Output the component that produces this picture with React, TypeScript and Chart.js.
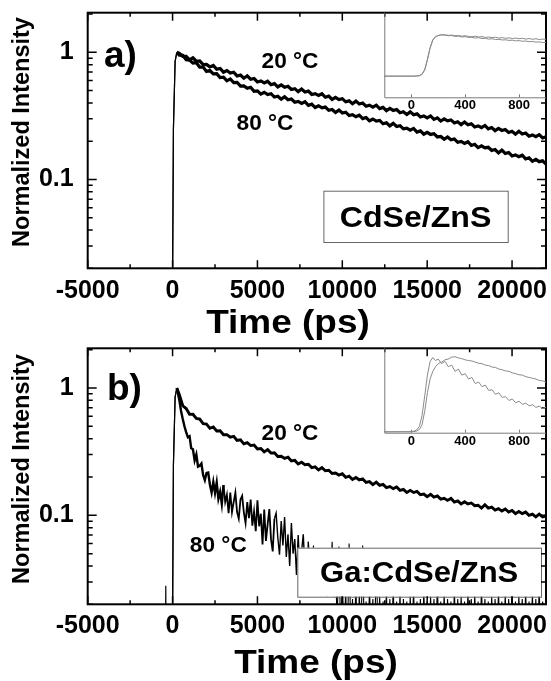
import React, { useEffect, useRef } from 'react';
import { Chart, registerables } from 'chart.js';

Chart.register(...registerables);

const FONT = "'Liberation Sans', Arial, Helvetica, sans-serif";
Chart.defaults.font.family = FONT;

// ---------- main panels: time axis (ps) ----------
const timePs = [
  -5000, -450, -400, -350, -50, 50, 150, 250,
  400, 600, 800, 1000, 1200, 1400, 1600, 1800, 2000, 2200,
  2400, 2600, 2800, 3000, 3200, 3400, 3600, 3800, 4000, 4200,
  4400, 4600, 4800, 5000, 5200, 5400, 5600, 5800, 6000, 6200,
  6400, 6600, 6800, 7000, 7200, 7400, 7600, 7800, 8000, 8200,
  8400, 8600, 8800, 9000, 9200, 9400, 9600, 9800, 10000, 10200,
  10400, 10600, 10800, 11000, 11200, 11400, 11600, 11800, 12000, 12200,
  12400, 12600, 12800, 13000, 13200, 13400, 13600, 13800, 14000, 14200,
  14400, 14600, 14800, 15000, 15200, 15400, 15600, 15800, 16000, 16200,
  16400, 16600, 16800, 17000, 17200, 17400, 17600, 17800, 18000, 18200,
  18400, 18600, 18800, 19000, 19200, 19400, 19600, 19800, 20000, 20200,
  20400, 20600, 20800, 21000, 21200, 21400, 21600, 21800, 22000,
];

// a) CdSe/ZnS
const cdse20C = [
  0.001, 0.001, 0.001, 0.001, 0.001, 0.25, 0.85, 1.0,
  0.98, 0.93, 0.93, 0.873, 0.906, 0.851, 0.857, 0.80, 0.804, 0.768,
  0.788, 0.735, 0.746, 0.698, 0.719, 0.687, 0.697, 0.652, 0.662, 0.626,
  0.654, 0.614, 0.622, 0.585, 0.595, 0.574, 0.592, 0.556, 0.567, 0.534,
  0.554, 0.532, 0.541, 0.51, 0.518, 0.491, 0.514, 0.487, 0.495, 0.466,
  0.473, 0.458, 0.472, 0.443, 0.452, 0.426, 0.442, 0.425, 0.432, 0.408,
  0.415, 0.394, 0.413, 0.392, 0.399, 0.377, 0.384, 0.371, 0.384, 0.361,
  0.369, 0.348, 0.362, 0.349, 0.355, 0.335, 0.341, 0.324, 0.34, 0.323,
  0.328, 0.31, 0.316, 0.305, 0.316, 0.297, 0.305, 0.288, 0.3, 0.289,
  0.294, 0.278, 0.284, 0.27, 0.283, 0.269, 0.274, 0.259, 0.264, 0.256,
  0.266, 0.25, 0.256, 0.242, 0.252, 0.243, 0.247, 0.234, 0.239, 0.227,
  0.239, 0.228, 0.232, 0.219, 0.224, 0.217, 0.225, 0.212, 0.217,
];
const cdse80C = [
  0.001, 0.001, 0.001, 0.001, 0.001, 0.25, 0.85, 1.0,
  0.95, 0.949, 0.873, 0.869, 0.822, 0.829, 0.764, 0.766, 0.708, 0.719,
  0.677, 0.68, 0.634, 0.637, 0.597, 0.618, 0.579, 0.581, 0.542, 0.545,
  0.521, 0.531, 0.493, 0.497, 0.469, 0.485, 0.466, 0.473, 0.445, 0.451,
  0.428, 0.447, 0.424, 0.429, 0.405, 0.411, 0.397, 0.409, 0.383, 0.391,
  0.368, 0.38, 0.366, 0.371, 0.35, 0.355, 0.336, 0.351, 0.333, 0.338,
  0.318, 0.323, 0.311, 0.32, 0.301, 0.307, 0.289, 0.299, 0.288, 0.291,
  0.274, 0.279, 0.264, 0.276, 0.261, 0.265, 0.25, 0.253, 0.244, 0.252,
  0.236, 0.241, 0.227, 0.235, 0.226, 0.229, 0.216, 0.218, 0.207, 0.216,
  0.205, 0.208, 0.196, 0.199, 0.192, 0.198, 0.185, 0.189, 0.178, 0.184,
  0.177, 0.179, 0.169, 0.172, 0.162, 0.17, 0.16, 0.163, 0.153, 0.156,
  0.151, 0.155, 0.145, 0.148, 0.139, 0.144, 0.138, 0.14, 0.132,
];

// b) Ga:CdSe/ZnS, 20 °C (same time axis)
const ga20C = [
  0.001, 0.001, 0.001, 0.001, 0.001, 0.25, 0.85, 1.0,
  0.886, 0.725, 0.69, 0.621, 0.622, 0.577, 0.569, 0.524, 0.52, 0.482,
  0.494, 0.46, 0.461, 0.429, 0.43, 0.411, 0.417, 0.387, 0.391, 0.364,
  0.372, 0.353, 0.356, 0.332, 0.335, 0.315, 0.328, 0.308, 0.31, 0.29,
  0.291, 0.28, 0.286, 0.267, 0.27, 0.253, 0.261, 0.25, 0.252, 0.237,
  0.24, 0.227, 0.237, 0.224, 0.226, 0.213, 0.215, 0.207, 0.212, 0.199,
  0.203, 0.191, 0.198, 0.19, 0.193, 0.181, 0.184, 0.174, 0.182, 0.172,
  0.175, 0.165, 0.168, 0.162, 0.167, 0.157, 0.16, 0.151, 0.157, 0.151,
  0.154, 0.145, 0.147, 0.14, 0.146, 0.139, 0.142, 0.134, 0.136, 0.131,
  0.136, 0.127, 0.13, 0.123, 0.128, 0.123, 0.125, 0.119, 0.12, 0.114,
  0.121, 0.114, 0.116, 0.11, 0.113, 0.108, 0.112, 0.106, 0.109, 0.103,
  0.107, 0.103, 0.106, 0.1, 0.102, 0.097, 0.102, 0.097, 0.099,
];

// b) Ga:CdSe/ZnS, 80 °C (finer time axis)
const gaHotTimePs = [
  -5000, -450, -400, -350, -50, 50, 150, 250,
  400, 500, 600, 700, 800, 900,
  1000, 1100, 1200, 1300, 1400, 1500, 1600, 1700, 1800, 1900,
  2000, 2100, 2200, 2300, 2400, 2500, 2600, 2700, 2800, 2900,
  3000, 3100, 3200, 3300, 3400, 3500, 3600, 3700, 3800, 3900,
  4000, 4100, 4200, 4300, 4400, 4500, 4600, 4700, 4800, 4900,
  5000, 5100, 5200, 5300, 5400, 5500, 5600, 5700, 5800, 5900,
  6000, 6100, 6200, 6300, 6400, 6500, 6600, 6700, 6800, 6900,
  7000, 7100, 7200, 7300, 7400, 7500, 7600, 7700, 7800, 7900,
  8000, 8100, 8200, 8300, 8400, 8500, 8600, 8700, 8800, 8900,
  9000, 9100, 9200, 9300, 9400, 9500, 9600, 9700, 9800, 9900,
  10000, 10100, 10200, 10300, 10400, 10500, 10600, 10700, 10800, 10900,
  11000, 11100, 11200, 11300, 11400, 11500, 11600, 11700, 11800, 11900,
  12000, 12100, 12200, 12300, 12400, 12500, 12600, 12700, 12800, 12900,
  13000, 13100, 13200, 13300, 13400, 13500, 13600, 13700, 13800, 13900,
  14000, 14100, 14200, 14300, 14400, 14500, 14600, 14700, 14800, 14900,
  15000, 15100, 15200, 15300, 15400, 15500, 15600, 15700, 15800, 15900,
  16000, 16100, 16200, 16300, 16400, 16500, 16600, 16700, 16800, 16900,
  17000, 17100, 17200, 17300, 17400, 17500, 17600, 17700, 17800, 17900,
  18000, 18100, 18200, 18300, 18400, 18500, 18600, 18700, 18800, 18900,
  19000, 19100, 19200, 19300, 19400, 19500, 19600, 19700, 19800, 19900,
  20000, 20100, 20200, 20300, 20400, 20500, 20600, 20700, 20800, 20900,
  21000, 21100, 21200, 21300, 21400, 21500, 21600, 21700, 21800, 21900,
  22000,
];
const ga80C = [
  0.001, 0.001, 0.028, 0.001, 0.001, 0.25, 0.85, 1.0,
  0.8, 0.66, 0.57, 0.5, 0.45, 0.41,
  0.418, 0.336, 0.33, 0.27, 0.3, 0.241, 0.245, 0.255, 0.207, 0.189,
  0.215, 0.217, 0.174, 0.151, 0.183, 0.15, 0.181, 0.135, 0.153, 0.123,
  0.173, 0.127, 0.145, 0.104, 0.151, 0.106, 0.127, 0.151, 0.106, 0.094,
  0.133, 0.142, 0.105, 0.087, 0.127, 0.095, 0.133, 0.083, 0.107, 0.075,
  0.131, 0.082, 0.103, 0.059, 0.111, 0.063, 0.085, 0.112, 0.065, 0.052,
  0.094, 0.104, 0.067, 0.049, 0.09, 0.058, 0.097, 0.047, 0.071, 0.04,
  0.087, 0.05, 0.065, 0.034, 0.07, 0.036, 0.052, 0.071, 0.037, 0.029,
  0.062, 0.041, 0.03, 0.058, 0.027, 0.045, 0.025, 0.052, 0.024, 0.035,
  0.045, 0.023, 0.04, 0.024, 0.062, 0.023, 0.035, 0.015, 0.057, 0.012,
  0.03, 0.012, 0.025, 0.009, 0.06, 0.011, 0.022, 0.01, 0.028, 0.008,
  0.024, 0.011, 0.058, 0.01, 0.021, 0.009, 0.026, 0.012, 0.022, 0.008,
  0.055, 0.01, 0.023, 0.009, 0.021, 0.011, 0.025, 0.008, 0.022, 0.01,
  0.027, 0.009, 0.021, 0.011, 0.024, 0.008, 0.022, 0.01, 0.021, 0.009,
  0.023, 0.011, 0.026, 0.008, 0.021, 0.01, 0.022, 0.009, 0.025, 0.011,
  0.021, 0.008, 0.023, 0.01, 0.022, 0.009, 0.028, 0.011, 0.021, 0.01,
  0.024, 0.009, 0.022, 0.011, 0.021, 0.008, 0.026, 0.01, 0.022, 0.009,
  0.023, 0.011, 0.021, 0.009, 0.025, 0.01, 0.022, 0.008, 0.024, 0.011,
  0.021, 0.009, 0.027, 0.01, 0.022, 0.011, 0.021, 0.008, 0.023, 0.01,
  0.022, 0.009, 0.025, 0.011, 0.021, 0.01, 0.024, 0.008, 0.022, 0.011,
  0.026, 0.009, 0.021, 0.01, 0.023, 0.011, 0.022, 0.008, 0.025, 0.01,
  0.021, 0.011, 0.024, 0.009, 0.022, 0.01, 0.027, 0.008, 0.021, 0.011,
  0.023,
];

// ---------- insets ----------
const insetTime = [
  -200, -150, -100, -50, 0, 20, 40, 60, 80, 100, 120, 140, 160, 180, 200,
  225, 250, 275, 300, 325, 350, 375, 400, 425, 450, 475, 500, 525, 550, 575,
  600, 625, 650, 675, 700, 725, 750, 775, 800, 825, 850, 875, 900, 925, 950,
  975, 1000,
];
const insetCdse20C = [
  0, 0, 0, 0, 0, 0, 0.005, 0.01, 0.04, 0.14, 0.38, 0.66, 0.85, 0.93, 0.96,
  0.98, 0.975, 0.965, 0.97, 0.955, 0.96, 0.945, 0.955, 0.94, 0.93, 0.945, 0.925, 0.935, 0.915, 0.925,
  0.91, 0.92, 0.9, 0.91, 0.895, 0.905, 0.89, 0.9, 0.885, 0.895, 0.875, 0.89, 0.87, 0.885, 0.865,
  0.875, 0.87,
];
const insetCdse80C = [
  0, 0, 0, 0, 0, 0, 0.005, 0.012, 0.05, 0.16, 0.4, 0.68, 0.86, 0.93, 0.96,
  0.975, 0.97, 0.955, 0.96, 0.94, 0.945, 0.925, 0.935, 0.915, 0.92, 0.9, 0.91, 0.89, 0.895, 0.875,
  0.885, 0.865, 0.87, 0.855, 0.86, 0.845, 0.85, 0.835, 0.84, 0.825, 0.83, 0.815, 0.82, 0.805, 0.81,
  0.795, 0.8,
];
const insetGa20C = [
  0.01, 0.012, 0.01, 0.013, 0.012, 0.015, 0.02, 0.04, 0.1, 0.28, 0.52, 0.7, 0.8, 0.86, 0.9,
  0.92, 0.95, 0.96, 0.985, 0.99, 0.975, 0.965, 0.95, 0.94, 0.935, 0.92, 0.905, 0.9, 0.88, 0.875,
  0.855, 0.85, 0.83, 0.82, 0.805, 0.8, 0.78, 0.77, 0.755, 0.75, 0.73, 0.72, 0.71, 0.7, 0.68,
  0.675, 0.66,
];
const insetGa80C = [
  0.012, 0.01, 0.014, 0.011, 0.013, 0.02, 0.035, 0.08, 0.22, 0.48, 0.75, 0.93, 0.98, 0.94, 0.96,
  0.9, 0.93, 0.86, 0.88, 0.8, 0.83, 0.75, 0.77, 0.7, 0.72, 0.64, 0.66, 0.6, 0.62, 0.55,
  0.56, 0.5, 0.52, 0.46, 0.47, 0.42, 0.44, 0.39, 0.41, 0.37, 0.385, 0.35, 0.365, 0.33, 0.345,
  0.32, 0.33,
];

// ---------- ticks ----------
const xMajorTicks = [-5000, 0, 5000, 10000, 15000, 20000];
const xTickLabels = ['-5000', '0', '5000', '10000', '15000', '20000'];
const xMinorTicks = [-2500, 2500, 7500, 12500, 17500];
const yMajorTicks = [0.1, 1];
const yTickLabels = ['0.1', '1'];
const yMinorTicks = [0.02, 0.03, 0.04, 0.05, 0.06, 0.07, 0.08, 0.09, 0.2, 0.3, 0.4, 0.5, 0.6, 0.7, 0.8, 0.9, 2];
const insetXTicks = [0, 400, 800];
const insetXTickLabels = ['0', '400', '800'];

const toPoints = (xs: number[], ys: number[]) => xs.map((x, i) => ({ x, y: ys[i] }));

function drawText(
  ctx: CanvasRenderingContext2D, s: string, x: number, y: number, size: number,
  align: CanvasTextAlign = 'center', sx = 1,
) {
  ctx.save();
  ctx.translate(x, y);
  ctx.scale(sx, 1);
  ctx.font = `bold ${size}px ${FONT}`;
  ctx.textAlign = align;
  ctx.textBaseline = 'alphabetic';
  ctx.fillStyle = '#000';
  ctx.fillText(s, 0, 0);
  ctx.restore();
}

function decorPlugin(p: any) {
  return {
    id: 'decor',
    afterDatasetsDraw(chart: any) {
      const { ctx, chartArea: a, scales } = chart;
      const xs = scales.x;
      const ys = scales.y;
      ctx.save();
      // sample box
      ctx.fillStyle = '#fff';
      ctx.fillRect(p.box.x, p.box.y, p.box.w, p.box.h);
      ctx.strokeStyle = '#666';
      ctx.lineWidth = 1;
      ctx.strokeRect(p.box.x + 0.5, p.box.y + 0.5, p.box.w, p.box.h);
      drawText(ctx, p.boxText, p.box.x + p.box.w / 2, p.boxTextY, p.boxFont, 'center', p.boxSx);
      // frame
      ctx.strokeStyle = '#000';
      ctx.lineWidth = 2;
      ctx.strokeRect(a.left, a.top, a.right - a.left, a.bottom - a.top);
      // ticks (inside, on all four sides)
      ctx.lineWidth = 1.5;
      ctx.beginPath();
      const xt = (v: number, len: number) => {
        const px = xs.getPixelForValue(v);
        ctx.moveTo(px, a.bottom); ctx.lineTo(px, a.bottom - len);
        ctx.moveTo(px, a.top); ctx.lineTo(px, a.top + len);
      };
      const yt = (v: number, len: number) => {
        const py = ys.getPixelForValue(v);
        ctx.moveTo(a.left, py); ctx.lineTo(a.left + len, py);
        ctx.moveTo(a.right, py); ctx.lineTo(a.right - len, py);
      };
      xMajorTicks.forEach((v) => xt(v, 8));
      xMinorTicks.forEach((v) => xt(v, 4));
      yMajorTicks.forEach((v) => yt(v, 9));
      yMinorTicks.forEach((v) => yt(v, 5));
      ctx.stroke();
      // labels
      drawText(ctx, p.panelLabel, p.labelPos.x, p.labelPos.y, 37, 'left');
      drawText(ctx, '20 °C', p.t20.x, p.t20.y, 22, 'center', 1.03);
      drawText(ctx, '80 °C', p.t80.x, p.t80.y, 22, 'center', 1.03);
      // axis titles
      drawText(ctx, 'Time (ps)', p.xTitleX, p.xTitleY, 33, 'center', 1.12);
      ctx.save();
      ctx.translate(22.5, p.yTitleY);
      ctx.rotate(-Math.PI / 2);
      ctx.font = `bold 23.5px ${FONT}`;
      ctx.textAlign = 'center';
      ctx.textBaseline = 'middle';
      ctx.fillStyle = '#000';
      ctx.fillText('Normalized Intensity', 0, 0);
      ctx.restore();
      ctx.restore();
    },
  };
}

function mainConfig(p: any): any {
  const line = (xs: number[], vals: number[], widthAt: (i: number) => number) => ({
    data: toPoints(xs, vals),
    borderColor: '#000',
    borderWidth: widthAt(100),
    pointRadius: 0,
    tension: 0,
    fill: false,
    segment: { borderWidth: (c: any) => (c.p1DataIndex <= 7 ? 1.2 : widthAt(c.p1DataIndex)) },
  });
  return {
    type: 'line',
    data: { datasets: [line(timePs, p.v20, p.w20), line(p.t80x, p.v80, p.w80)] },
    options: {
      responsive: false,
      animation: false,
      devicePixelRatio: 1,
      events: [],
      layout: { padding: { left: 0, right: 5, top: p.padTop, bottom: 0 } },
      plugins: { legend: { display: false }, tooltip: { enabled: false } },
      scales: {
        x: {
          type: 'linear',
          min: -5000,
          max: 22000,
          grid: { display: false, drawTicks: false },
          border: { display: false },
          afterBuildTicks: (s: any) => { s.ticks = xMajorTicks.map((v) => ({ value: v })); },
          ticks: {
            autoSkip: false,
            maxRotation: 0,
            minRotation: 0,
            padding: p.xTickPad,
            color: '#000',
            font: { family: FONT, size: 25, weight: 'bold' },
            callback: (_v: number, i: number) => xTickLabels[i],
          },
          afterFit: (s: any) => { s.height = p.xAxisH; s.paddingLeft = 0; s.paddingRight = 0; },
        },
        y: {
          type: 'logarithmic',
          min: 0.02,
          max: 2.05,
          grid: { display: false, drawTicks: false },
          border: { display: false },
          afterBuildTicks: (s: any) => { s.ticks = yMajorTicks.map((v) => ({ value: v, major: true })); },
          ticks: {
            autoSkip: false,
            padding: 14,
            color: '#000',
            font: { family: FONT, size: 25, weight: 'bold' },
            callback: (_v: number, i: number) => yTickLabels[i],
          },
          afterFit: (s: any) => { s.width = 87.7; s.paddingTop = 0; s.paddingBottom = 0; },
        },
      },
    },
    plugins: [decorPlugin(p)],
  };
}

const insetDecor = {
  id: 'insetDecor',
  afterDatasetsDraw(chart: any) {
    const { ctx, chartArea: a, scales } = chart;
    ctx.save();
    ctx.strokeStyle = '#7a7a7a';
    ctx.lineWidth = 1;
    ctx.beginPath();
    ctx.moveTo(a.left + 0.5, a.top);
    ctx.lineTo(a.left + 0.5, a.bottom + 0.5);
    ctx.lineTo(a.right, a.bottom + 0.5);
    insetXTicks.forEach((v) => {
      const px = Math.round(scales.x.getPixelForValue(v)) + 0.5;
      ctx.moveTo(px, a.bottom);
      ctx.lineTo(px, a.bottom - 3);
    });
    ctx.stroke();
    ctx.restore();
  },
};

function insetConfig(p: any): any {
  const line = (vals: number[]) => ({
    data: toPoints(insetTime, vals),
    borderColor: '#8a8a8a',
    borderWidth: 1,
    pointRadius: 0,
    tension: 0,
    fill: false,
  });
  return {
    type: 'line',
    data: { datasets: [line(p.v20), line(p.v80)] },
    options: {
      responsive: false,
      animation: false,
      devicePixelRatio: 1,
      events: [],
      layout: { padding: { left: 0, right: 5, top: p.padTop, bottom: 0 } },
      plugins: { legend: { display: false }, tooltip: { enabled: false } },
      scales: {
        x: {
          type: 'linear',
          min: -200,
          max: 1000,
          grid: { display: false, drawTicks: false },
          border: { display: false },
          afterBuildTicks: (s: any) => { s.ticks = insetXTicks.map((v) => ({ value: v })); },
          ticks: {
            autoSkip: false,
            maxRotation: 0,
            minRotation: 0,
            padding: p.tickPad,
            color: '#000',
            font: { family: FONT, size: 13, weight: 'bold' },
            callback: (_v: number, i: number) => insetXTickLabels[i],
          },
          afterFit: (s: any) => { s.height = p.xAxisH; s.paddingLeft = 0; s.paddingRight = 0; },
        },
        y: {
          type: 'linear',
          min: p.yMin,
          max: p.yMax,
          grid: { display: false, drawTicks: false },
          border: { display: false },
          ticks: { display: false },
          afterFit: (s: any) => { s.width = 14.3; s.paddingTop = 0; s.paddingBottom = 0; },
        },
      },
    },
    plugins: [insetDecor],
  };
}

const panelA = {
  v20: cdse20C, v80: cdse80C, t80x: timePs,
  w20: () => 3.2, w80: () => 3.2,
  padTop: 12.7, xAxisH: 71.7, xTickPad: 8,
  box: { x: 323.4, y: 190.7, w: 184.3, h: 51.3 }, boxText: 'CdSe/ZnS', boxFont: 30, boxSx: 1.07, boxTextY: 227,
  panelLabel: 'a)', labelPos: { x: 104, y: 66.5 },
  t20: { x: 290, y: 68.3 }, t80: { x: 265, y: 130 },
  xTitleX: 288, xTitleY: 333, yTitleY: 132,
};
const panelB = {
  v20: ga20C, v80: ga80C, t80x: gaHotTimePs,
  w20: () => 2.9,
  // hot trace: dense, thick band early, thinner hair-like noise later
  w80: (i: number) => (i <= 34 ? 2.4 : i <= 64 ? 1.8 : i <= 84 ? 1.4 : 1.1),
  padTop: 8.3, xAxisH: 76.7, xTickPad: 7,
  box: { x: 297.3, y: 207.7, w: 243.7, h: 49 }, boxText: 'Ga:CdSe/ZnS', boxFont: 29, boxSx: 1.07, boxTextY: 242,
  panelLabel: 'b)', labelPos: { x: 107, y: 60 },
  t20: { x: 290, y: 100 }, t80: { x: 218.3, y: 211.7 },
  xTitleX: 316, xTitleY: 333, yTitleY: 129,
};
const insetA = { v20: insetCdse20C, v80: insetCdse80C, padTop: 12.7, xAxisH: 20.7, tickPad: 0, yMin: -0.5, yMax: 1.5 };
const insetB = { v20: insetGa20C, v80: insetGa80C, padTop: 8.3, xAxisH: 25.3, tickPad: 1, yMin: 0, yMax: 1.1 };

export default function App() {
  const aRef = useRef<HTMLCanvasElement>(null);
  const bRef = useRef<HTMLCanvasElement>(null);
  const iaRef = useRef<HTMLCanvasElement>(null);
  const ibRef = useRef<HTMLCanvasElement>(null);

  useEffect(() => {
    const charts = [
      new Chart(aRef.current!, mainConfig(panelA)),
      new Chart(bRef.current!, mainConfig(panelB)),
      new Chart(iaRef.current!, insetConfig(insetA)),
      new Chart(ibRef.current!, insetConfig(insetB)),
    ];
    return () => charts.forEach((c) => c.destroy());
  }, []);

  return (
    <div style={{ position: 'absolute', left: 0, top: 0, width: 551, height: 681, background: '#fff', overflow: 'hidden' }}>
      <canvas ref={aRef} width={551} height={340} style={{ position: 'absolute', left: 0, top: 0 }} />
      <canvas ref={bRef} width={551} height={341} style={{ position: 'absolute', left: 0, top: 340 }} />
      <canvas ref={iaRef} width={181} height={118} style={{ position: 'absolute', left: 370, top: 0 }} />
      <canvas ref={ibRef} width={181} height={118} style={{ position: 'absolute', left: 370, top: 340 }} />
    </div>
  );
}
